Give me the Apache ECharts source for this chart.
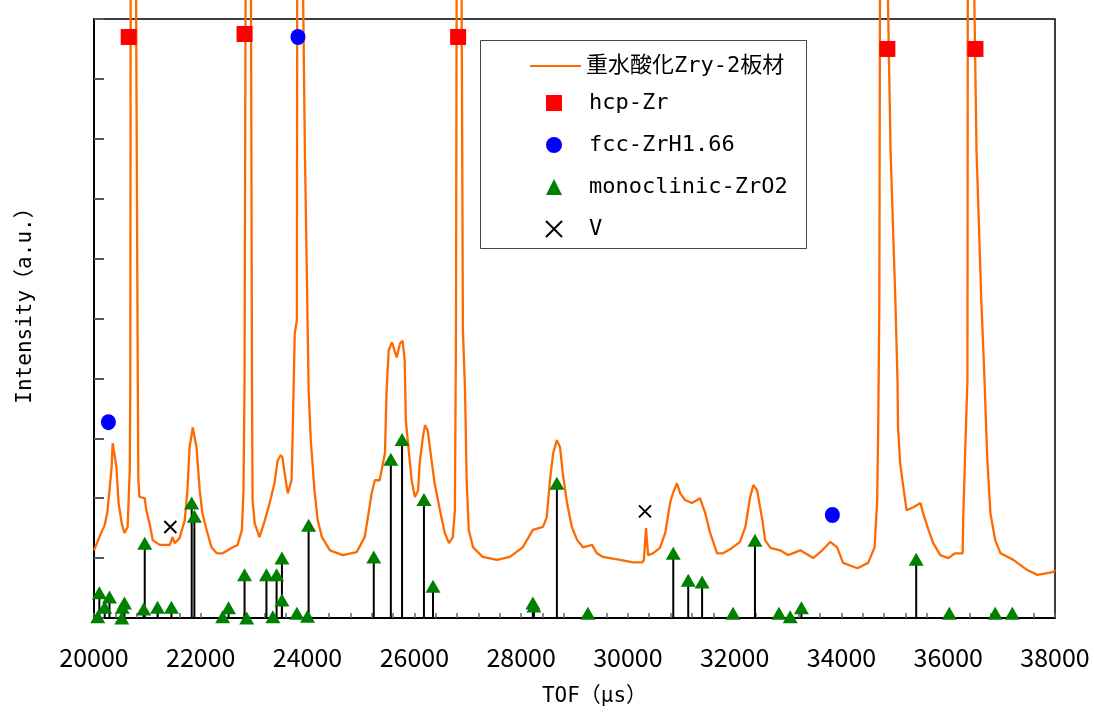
<!DOCTYPE html>
<html>
<head>
<meta charset="utf-8">
<script src="https://cdn.jsdelivr.net/npm/echarts@6/dist/echarts.min.js"></script>
<style>
    html, body { margin: 0; padding: 0; background: #fff; }
    #cn { width: 1094px; height: 712px; }
</style>
</head>
<body>
<div id="cn"></div>
<script>
'use strict';

const FONT = '"Noto Sans CJK JP", "Noto Sans", sans-serif';
const FONT_MONO = '"DejaVu Sans Mono", "Noto Sans CJK JP", monospace'; //半角は等幅で

// TOF spectrum [tof(us), intensity(a.u.)], big peaks run off the top
const spectrum = [
    [20000, 1.13], [20100, 1.35], [20200, 1.55], [20250, 1.77], [20290, 2.13], [20330, 2.52],
    [20350, 2.92], [20380, 2.92], [20420, 2.52], [20460, 1.92], [20520, 1.58], [20570, 1.42],
    [20630, 1.52], [20670, 2.47], [20680, 3.97], [20690, 14], [20770, 14], [20820, 3.97],
    [20830, 2.35], [20850, 2.02], [20950, 2.00], [20980, 1.80], [21040, 1.58], [21100, 1.30],
    [21230, 1.22], [21420, 1.22], [21470, 1.35], [21510, 1.25], [21600, 1.33], [21700, 1.63],
    [21750, 2.13], [21790, 2.85], [21850, 3.18], [21880, 3.18], [21920, 2.85], [21980, 2.13],
    [22030, 1.75], [22110, 1.47], [22200, 1.18], [22300, 1.08], [22410, 1.08], [22600, 1.18],
    [22690, 1.22], [22770, 1.47], [22800, 2.13], [22820, 3.97], [22850, 14], [22930, 14],
    [22960, 3.80], [22970, 1.97], [23010, 1.58], [23100, 1.35], [23200, 1.63], [23290, 1.92],
    [23380, 2.25], [23440, 2.63], [23500, 2.72], [23530, 2.68], [23570, 2.42], [23630, 2.08],
    [23700, 2.30], [23720, 3.02], [23760, 4.75], [23800, 4.97], [23810, 14], [23870, 14],
    [23950, 7.8], [24000, 4.97], [24020, 3.80], [24060, 2.97], [24130, 2.13], [24190, 1.63],
    [24270, 1.35], [24420, 1.13], [24660, 1.05], [24920, 1.10], [25070, 1.35], [25130, 1.68],
    [25200, 2.08], [25260, 2.30], [25350, 2.30], [25450, 2.75], [25480, 3.80], [25520, 4.47],
    [25580, 4.60], [25670, 4.35], [25730, 4.58], [25780, 4.63], [25820, 4.30], [25840, 3.30],
    [25900, 2.75], [25950, 2.30], [26010, 2.02], [26070, 2.13], [26100, 2.58], [26160, 3.02],
    [26200, 3.22], [26250, 3.13], [26330, 2.58], [26380, 2.25], [26480, 1.80], [26570, 1.42],
    [26650, 1.25], [26720, 1.35], [26760, 1.80], [26780, 4.80], [26800, 14], [26870, 14],
    [26910, 4.80], [26950, 3.80], [26980, 2.30], [27020, 1.47], [27100, 1.18], [27280, 1.02],
    [27550, 0.97], [27790, 1.02], [28030, 1.18], [28220, 1.47], [28410, 1.52], [28480, 1.68],
    [28540, 2.30], [28600, 2.75], [28670, 2.97], [28730, 2.85], [28780, 2.42], [28860, 1.92],
    [28950, 1.52], [29050, 1.30], [29160, 1.18], [29330, 1.22], [29420, 1.08], [29530, 1.02],
    [29850, 0.97], [30100, 0.93], [30270, 0.93], [30300, 0.97], [30340, 1.50], [30360, 1.25],
    [30380, 1.05], [30470, 1.08], [30600, 1.17], [30700, 1.42], [30790, 1.92], [30850, 2.10],
    [30920, 2.25], [30980, 2.08], [31070, 1.97], [31200, 1.92], [31300, 1.97], [31350, 2.00],
    [31450, 1.75], [31540, 1.42], [31670, 1.08], [31780, 1.08], [31920, 1.15], [32100, 1.27],
    [32200, 1.52], [32290, 2.02], [32350, 2.22], [32420, 2.13], [32520, 1.63], [32570, 1.30],
    [32670, 1.17], [32850, 1.13], [33000, 1.05], [33230, 1.13], [33470, 1.00], [33640, 1.13],
    [33790, 1.27], [33920, 1.18], [34030, 0.92], [34300, 0.83], [34500, 0.92], [34620, 1.18],
    [34670, 1.97], [34690, 3.30], [34710, 5.30], [34730, 14], [34800, 14], [34920, 7.8],
    [35010, 5.3], [35050, 3.97], [35060, 3.18], [35100, 2.58], [35160, 2.18], [35220, 1.80],
    [35350, 1.85], [35480, 1.92], [35530, 1.75], [35630, 1.47], [35720, 1.25], [35850, 1.05],
    [36000, 1.00], [36130, 1.08], [36270, 1.08], [36280, 1.63], [36320, 2.85], [36360, 3.97],
    [36370, 14], [36430, 14], [36530, 7.8], [36620, 5.3], [36680, 3.97], [36730, 2.68],
    [36790, 1.75], [36880, 1.30], [36980, 1.08], [37220, 0.97], [37480, 0.80], [37670, 0.72],
    [37860, 0.75], [37970, 0.77], [38000, 0.80]
];

// hcp-Zr
const hcpTof = [20650, 22820, 26820, 34860, 36510];
const hcpInt = [9.7, 9.75, 9.7, 9.5, 9.5];

// fcc-ZrH1.66
const fccTof = [20270, 23820, 33830];
const fccInt = [3.27, 9.7, 1.72];

// monoclinic-ZrO2 (drop line to the axis)
const monoTof = [20070, 20100, 20200, 20290, 20520, 20530, 20570, 20930, 20950, 21190,
    21450, 21830, 21880, 22410, 22520, 22820, 22860, 23230, 23350, 23420,
    23520, 23520, 23800, 24000, 24020, 25240, 25560, 25770, 26180, 26350,
    28220, 28240, 28670, 29250, 30850, 31130, 31390, 31970, 32380, 32830,
    33040, 33250, 35400, 36020, 36880, 37200];
const monoInt = [0.02, 0.42, 0.18, 0.35, 0.0, 0.18, 0.25, 0.15, 1.25, 0.18,
    0.18, 1.92, 1.7, 0.02, 0.17, 0.72, 0.0, 0.72, 0.02, 0.72,
    1.0, 0.3, 0.08, 0.03, 1.55, 1.02, 2.65, 2.98, 1.98, 0.53,
    0.25, 0.2, 2.25, 0.08, 1.08, 0.63, 0.6, 0.08, 1.3, 0.08,
    0.02, 0.17, 0.98, 0.08, 0.08, 0.08];

// V
const vTof = [21430, 30320];
const vInt = [1.52, 1.78];

const xTicks = { min: 20000, max: 38000, step: 2000 };

const zip = (xs, ys) => xs.map((x, i) => [x, ys[i]]);

const strLine = '重水酸化Zry-2板材';
const crossPath = 'path://M0,0L10,10M10,0L0,10';

const legendText = { fontSize: 22, color: '#000', fontFamily: FONT_MONO };

const optionChart = {
    animation: false,
    backgroundColor: '#fff',
    textStyle: { fontFamily: FONT },
    grid: {
        left: 94,
        right: 39,
        top: 19,
        bottom: 94,
        outerBoundsMode: 'none',
        containLabel: false,
        show: true,
        borderColor: '#000',
        borderWidth: 1.5
    },
    // 凡例の枠
    graphic: [{
        type: 'rect',
        left: 480,
        top: 40,
        z: 3,
        shape: { width: 326, height: 208 },
        style: { fill: '#fff', stroke: '#444', lineWidth: 1 }
    }],
    legend: [{
            // line only
            orient: 'vertical',
            left: 529,
            top: 55,
            padding: 0,
            itemWidth: 51,
            itemHeight: 16,
            textStyle: legendText,
            data: [{ name: strLine, itemStyle: { opacity: 0 } }]
        },
        {
            // markers
            orient: 'vertical',
            left: 545,
            top: 92,
            padding: 0,
            itemWidth: 16,
            itemHeight: 16,
            itemGap: 20,
            textStyle: Object.assign({ padding: [0, 0, 0, 22] }, legendText),
            data: ['hcp-Zr', 'fcc-ZrH1.66', 'monoclinic-ZrO2', 'V']
        }
    ],
    xAxis: {
        type: 'value',
        min: xTicks.min,
        max: xTicks.max,
        interval: xTicks.step,
        name: 'TOF（μs）',
        nameLocation: 'middle',
        nameGap: 68,
        nameTextStyle: { fontSize: 21, color: '#000', fontFamily: FONT_MONO, padding: [0, 0, 0, 40] },
        axisLine: { lineStyle: { color: '#000', width: 2 } },
        axisTick: { inside: true, length: 5, lineStyle: { color: '#666', width: 1.5 } },
        minorTick: { show: true, splitNumber: 5, length: 5, lineStyle: { color: '#666', width: 1.5 } },
        axisLabel: {
            fontSize: 25,
            color: '#000',
            margin: 27,
            fontFamily: FONT,
            formatter: (v) => String(v)
        },
        splitLine: { show: false }
    },
    yAxis: {
        type: 'value',
        min: 0,
        max: 10,
        interval: 1,
        name: 'Intensity（a.u.）',
        nameLocation: 'middle',
        nameGap: 58,
        nameTextStyle: { fontSize: 21, color: '#000', fontFamily: FONT_MONO, padding: [0, 0, 0, 36] },
        axisLine: { lineStyle: { color: '#000', width: 2 } },
        axisTick: { inside: true, length: 10, lineStyle: { color: '#555', width: 2 } },
        axisLabel: { show: false },
        splitLine: { show: false }
    },
    series: [{
            name: strLine,
            type: 'line',
            data: spectrum,
            symbol: 'none',
            clip: false,
            z: 2,
            lineStyle: { color: '#ff6a00', width: 2.3 },
            itemStyle: { color: '#ff6a00' }
        },
        {
            name: 'drop',
            type: 'bar',
            data: zip(monoTof, monoInt),
            barWidth: 2,
            silent: true,
            z: 3,
            itemStyle: { color: '#000' }
        },
        {
            name: 'hcp-Zr',
            type: 'scatter',
            data: zip(hcpTof, hcpInt),
            symbol: 'rect',
            symbolSize: 16,
            clip: false,
            z: 5,
            itemStyle: { color: '#ff0000', opacity: 1 }
        },
        {
            name: 'fcc-ZrH1.66',
            type: 'scatter',
            data: zip(fccTof, fccInt),
            symbol: 'circle',
            symbolSize: [15, 16],
            clip: false,
            z: 5,
            itemStyle: { color: '#0000ff', opacity: 1 }
        },
        {
            name: 'monoclinic-ZrO2',
            type: 'scatter',
            data: zip(monoTof, monoInt),
            symbol: 'triangle',
            symbolSize: [15, 13],
            clip: false,
            z: 5,
            itemStyle: { color: '#008000', opacity: 1 }
        },
        {
            name: 'V',
            type: 'scatter',
            data: zip(vTof, vInt),
            symbol: crossPath,
            symbolSize: 12,
            clip: false,
            z: 5,
            itemStyle: { color: 'rgba(0,0,0,0)', borderColor: '#000', borderWidth: 2, opacity: 1 }
        }
    ]
};

//main
{
    const echartsTof = echarts.init(document.getElementById('cn'));
    echartsTof.setOption(optionChart);
}
</script>
</body>
</html>
